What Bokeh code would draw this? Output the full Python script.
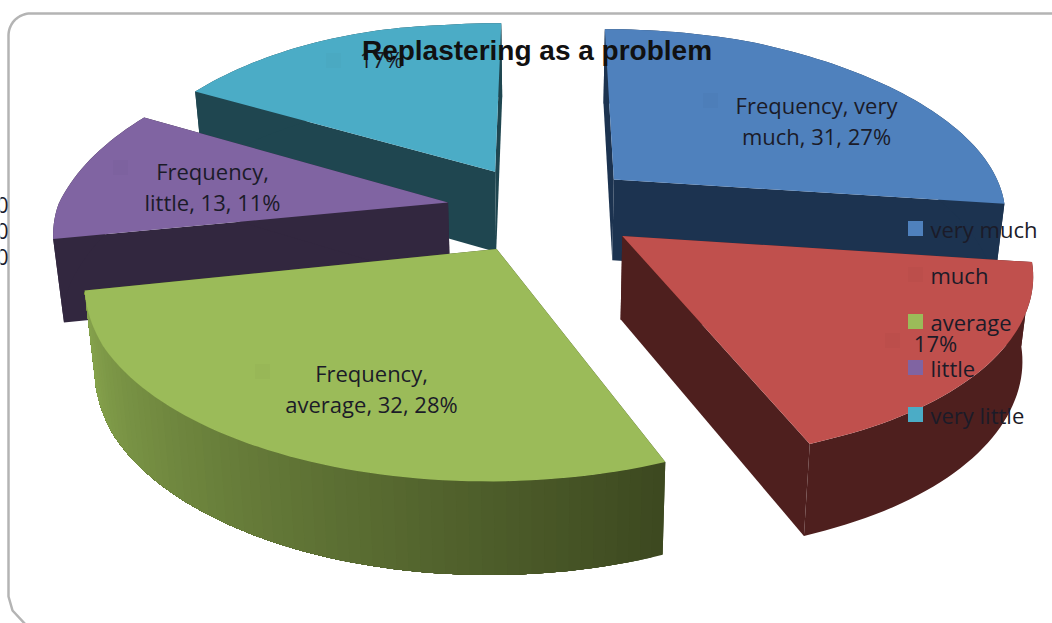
import math
from bokeh.core.properties import value
from bokeh.embed import file_html
from bokeh.models import Range1d
from bokeh.plotting import figure
from bokeh.resources import INLINE

# Survey answers and their colours
categories = ["very much", "much", "average", "little", "very little"]
frequencies = [31, 20, 32, 13, 20]
top_colors = ["#4f81bd", "#c0504d", "#9bbb59", "#8064a2", "#4bacc6"]
wall_colors = ["#1c3350", "#4e1f1e", "#8aa84f", "#32273f", "#1f4650"]
green_wall_dark = "#3d4920"
show_full_label = [True, False, True, True, False]
title = "Replastering as a problem"
series_name = "Frequency"

# Projection of the tilted, exploded pie on the page
CX, CY = 543, 208
RX, RY = 395, 181
PERSPECTIVE = 0.15
EXPLODE = 0.245
BOTTOM_SQUEEZE = 0.978
SWEEP_STEP = 1.5


def project(u, v):
    s = 1 / (1 + PERSPECTIVE * v)
    # small corrections for the camera's off-axis view
    back_left = max(0, v) * max(0, -u - 0.3) * 1.4
    far_left = max(0, -u - 1.0)
    front = max(0, -v - 0.5)
    x = CX + RX * u * s + 20 * back_left + 22 * far_left
    y = CY - RY * v * s - 8 * back_left - 15 * far_left + 9 * max(0, u - 0.6) + 5 * front
    return x, y, s


def top_point(u, v):
    x, y, _ = project(u, v)
    return x, y


def bottom_point(u, v):
    x, y, s = project(u, v)
    return CX + BOTTOM_SQUEEZE * (x - CX), y + 30 + 52 * s


def mix(a, b, t):
    ca = [int(a[i:i + 2], 16) for i in (1, 3, 5)]
    cb = [int(b[i:i + 2], 16) for i in (1, 3, 5)]
    return "#%02x%02x%02x" % tuple(round(p + (q - p) * t) for p, q in zip(ca, cb))


def fill_poly(points, color):
    p.patch([c[0] for c in points], [c[1] for c in points],
            fill_color=color, line_color=None)


p = figure(width=1052, height=623, output_backend="svg", toolbar_location=None,
           x_range=Range1d(0, 1052), y_range=Range1d(623, 0),
           min_border=0, outline_line_color=None, background_fill_color="white")
p.axis.visible = False
p.grid.visible = False

# Rounded chart frame running off the right and bottom of the page
corner = 22
fx, fy = 8, 13
arc = [math.radians(a) for a in range(180, 271, 5)]
frame_x = [fx + corner + corner * math.cos(a) for a in arc] + [1052]
frame_y = [fy + corner + corner * math.sin(a) for a in arc] + [fy]
frame_x = [26, fx + 4, fx, fx] + frame_x
frame_y = [625, 610, 596, fy + corner] + frame_y
p.line(frame_x, frame_y, line_color="#b4b4b4", line_width=2.5)

# Axis remnants clipped by the frame's left edge
p.text([8, 8, 8], [204, 230, 256], text=["0", "0", "0"], text_align="right",
       text_baseline="middle", text_font=value("Open Sans"), text_font_size="21px",
       text_color="#1a1a2a")

total = sum(frequencies)
start = 0.0
wedges = []
for i, f in enumerate(frequencies):
    sweep = 360 * f / total
    wedges.append((start, start + sweep))
    start += sweep

# Back slices first so the nearer ones overlap them
for i in [4, 3, 0, 2, 1]:
    a0, a1 = wedges[i]
    mid = math.radians((a0 + a1) / 2)
    ox, oy = EXPLODE * math.sin(mid), EXPLODE * math.cos(mid)
    steps = max(2, int((a1 - a0) / SWEEP_STEP))
    angles = [math.radians(a0 + (a1 - a0) * k / steps) for k in range(steps + 1)]
    rim = [(ox + math.sin(a), oy + math.cos(a)) for a in angles]
    apex = (ox, oy)

    wall = wall_colors[i]
    cut_color = green_wall_dark if i == 2 else wall
    for end in (rim[0], rim[-1]):
        fill_poly([top_point(*apex), top_point(*end), bottom_point(*end), bottom_point(*apex)],
                  cut_color)

    # Each band of the outer wall overlaps the rest, which hides any seams
    if i == 2:
        for k in range(steps):
            tail = rim[k:]
            fill_poly([top_point(*r) for r in tail] + [bottom_point(*r) for r in reversed(tail)],
                      mix(green_wall_dark, wall, k / steps))
    else:
        fill_poly([top_point(*r) for r in rim] + [bottom_point(*r) for r in reversed(rim)], wall)

    fill_poly([top_point(*apex)] + [top_point(*r) for r in rim], top_colors[i])

# Data labels, each with its faint key square
label_anchor = [(816, 104), (935, 342), (371, 372), (212, 170), (381, 58)]
label_key = [(710, 100), (892, 340), (262, 371), (120, 167), (333, 60)]
for i, f in enumerate(frequencies):
    pct = round(100 * f / total)
    if show_full_label[i]:
        words = categories[i].split()
        if len(words) == 2:
            lines = [f"{series_name}, {words[0]}", f"{words[1]}, {f}, {pct}%"]
        else:
            lines = [f"{series_name},", f"{categories[i]}, {f}, {pct}%"]
    else:
        lines = [f"{pct}%"]
    ax, ay = label_anchor[i]
    kx, ky = label_key[i]
    p.scatter([kx], [ky], marker="square", size=15,
              fill_color=mix(top_colors[i], "#000000", 0.02), line_color=None)
    p.text([ax] * len(lines), [ay + 31.5 * k for k in range(len(lines))], text=lines,
           text_align="center", text_baseline="middle", text_font=value("Open Sans"),
           text_font_size="22px", text_color="#1b1b28")

# Legend
legend_y = [228, 274, 321, 367, 414]
p.scatter([915] * 5, legend_y, marker="square", size=15, line_color=None,
          fill_color=[top_colors[0], mix(top_colors[1], "#000000", 0.02)] + top_colors[2:])
p.text([930] * 5, legend_y, text=categories, text_align="left", text_baseline="middle",
       text_font=value("Open Sans"), text_font_size="22px", text_color="#1b1b28")

p.text([536.5], [50], text=[title], text_align="center", text_baseline="middle",
       text_font=value("Liberation Sans"), text_font_style="bold", text_font_size="28px",
       text_color="#111111")

open("out.html", "w").write(file_html(p, INLINE))
